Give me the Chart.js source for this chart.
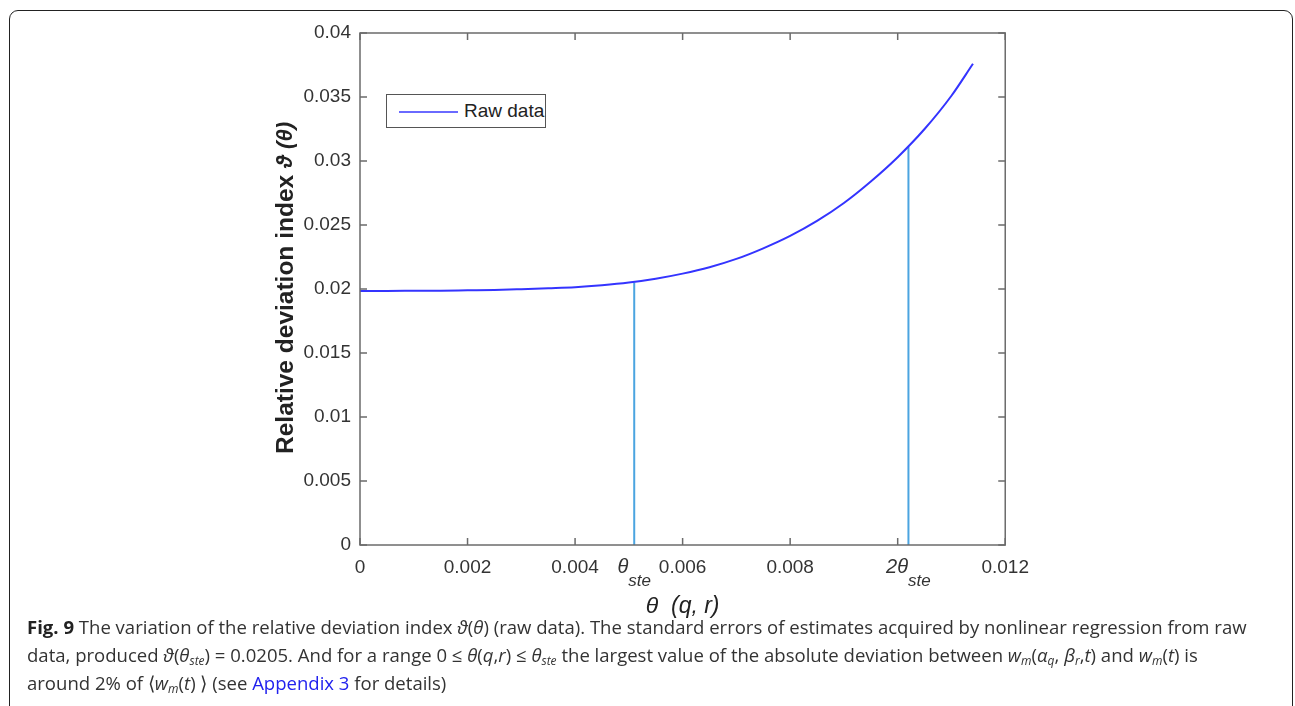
<!DOCTYPE html>
<html>
<head>
<meta charset="utf-8">
<script src="https://cdn.jsdelivr.net/npm/chart.js@4.4.1/dist/chart.umd.min.js"></script>
<style>
  html, body { margin: 0; padding: 0; background: #fff; width: 1295px; height: 706px; overflow: hidden; }
  .frame { position: absolute; left: 9px; top: 10px; width: 1282px; height: 740px; border: 1.5px solid #222; border-radius: 9px; }
  .plot { position: absolute; left: 240px; top: 0; width: 800px; height: 620px; }
  .legend { position: absolute; left: 386px; top: 94px; width: 158px; height: 32px; border: 1.5px solid #555; background: #fff;
    font: 19px "Liberation Sans", Arial, sans-serif; color: #222; }
  .legend .ln { position: absolute; left: 12px; top: 16px; width: 59px; height: 2px; background: #6a6aff; }
  .legend .tx { position: absolute; left: 77px; top: 5px; }
  .caption { position: absolute; left: 27px; top: 613px; font: 18.55px/28px "Open Sans", sans-serif; color: #333; white-space: nowrap; }
  .caption b { color: #222; }
  .caption i { font-style: italic; }
  .caption sub { font-size: 12px; line-height: 0; vertical-align: -3px; }
  .caption a { color: #2222ee; text-decoration: none; }
</style>
</head>
<body>
<div class="frame"></div>
<div class="plot"><canvas id="c" width="800" height="620"></canvas></div>
<div class="legend"><div class="ln"></div><div class="tx">Raw data</div></div>
<div class="caption">
<b>Fig. 9</b> The variation of the relative deviation index <i>ϑ</i>(<i>θ</i>) (raw data). The standard errors of estimates acquired by nonlinear regression from raw<br>
data, produced <i>ϑ</i>(<i>θ<sub>ste</sub></i>) = 0.0205. And for a range 0 ≤ <i>θ</i>(<i>q</i>,<i>r</i>) ≤ <i>θ<sub>ste</sub></i> the largest value of the absolute deviation between <i>w<sub>m</sub></i>(<i>α<sub>q</sub></i>, <i>β<sub>r</sub></i>,<i>t</i>) and <i>w<sub>m</sub></i>(<i>t</i>) is<br>
around 2% of ⟨<i>w<sub>m</sub></i>(<i>t</i>) ⟩ (see <a>Appendix 3</a> for details)
</div>
<script>
// raw data curve
const thetaVals = [0, 0.0005, 0.001, 0.0015, 0.002, 0.0025, 0.003, 0.0035, 0.004, 0.0045, 0.005, 0.0055,
  0.006, 0.0065, 0.007, 0.0075, 0.008, 0.0085, 0.009, 0.0095, 0.010, 0.0105, 0.011, 0.0114];
const devVals = [0.01985, 0.01985, 0.01986, 0.01987, 0.01990, 0.01993, 0.01999, 0.02006, 0.02014, 0.02029, 0.02050, 0.02080,
  0.02120, 0.02170, 0.02235, 0.02318, 0.02415, 0.02532, 0.02672, 0.02840, 0.03030, 0.03250, 0.03510, 0.03760];

// theta_ste and 2*theta_ste markers
const steX = [0.0051, 0.0102];
const steY = [0.0205, 0.0311];
const steLabels = [["θ", "ste"], ["2θ", "ste"]];

const xTicks = [0, 0.002, 0.004, 0.006, 0.008, 0.010, 0.012];
const xTickHidden = [0.010];
const yTicks = [0, 0.005, 0.01, 0.015, 0.02, 0.025, 0.03, 0.035, 0.04];

const yTitle = ["Relative deviation index ", "ϑ (θ)"];
const xTitle = "θ  (q, r)";

const fmt = (v) => String(+Number(v).toFixed(4));
const tickFont = { family: "'Liberation Sans', Arial, sans-serif", size: 19 };

const boxPlugin = {
  id: "box",
  afterDatasetsDraw(chart) {
    const { ctx, chartArea: a, scales: { x, y } } = chart;
    ctx.save();
    ctx.strokeStyle = "#6b6b6b";
    ctx.lineWidth = 1.5;
    ctx.strokeRect(a.left, a.top, a.right - a.left, a.bottom - a.top);
    ctx.beginPath();
    xTicks.forEach(v => {
      const px = x.getPixelForValue(v);
      ctx.moveTo(px, a.bottom); ctx.lineTo(px, a.bottom - 7);
      ctx.moveTo(px, a.top); ctx.lineTo(px, a.top + 7);
    });
    yTicks.forEach(v => {
      const py = y.getPixelForValue(v);
      ctx.moveTo(a.left, py); ctx.lineTo(a.left + 7, py);
      ctx.moveTo(a.right, py); ctx.lineTo(a.right - 7, py);
    });
    ctx.stroke();

    // theta_ste labels under the axis
    ctx.fillStyle = "#333";
    ctx.textBaseline = "alphabetic";
    steX.forEach((v, i) => {
      const px = x.getPixelForValue(v);
      const [main, sub] = steLabels[i];
      ctx.font = "italic 20px 'Liberation Sans', Arial, sans-serif";
      const w1 = ctx.measureText(main).width;
      ctx.font = "italic 17px 'Liberation Sans', Arial, sans-serif";
      const w2 = ctx.measureText(sub).width;
      const x0 = px - (w1 + w2) / 2;
      ctx.font = "italic 20px 'Liberation Sans', Arial, sans-serif";
      ctx.fillText(main, x0, a.bottom + 28);
      ctx.font = "italic 17px 'Liberation Sans', Arial, sans-serif";
      ctx.fillText(sub, x0 + w1, a.bottom + 41);
    });

    // y axis title, bold part + italic part
    ctx.translate(46, (a.top + a.bottom) / 2 - 1);
    ctx.rotate(-Math.PI / 2);
    ctx.fillStyle = "#222";
    ctx.textBaseline = "middle";
    ctx.font = "bold 24.5px 'Liberation Sans', Arial, sans-serif";
    const wa = ctx.measureText(yTitle[0]).width;
    ctx.font = "italic bold 22px 'Liberation Sans', Arial, sans-serif";
    const wb = ctx.measureText(yTitle[1]).width;
    const sx = -(wa + wb) / 2;
    ctx.font = "bold 24.5px 'Liberation Sans', Arial, sans-serif";
    ctx.fillText(yTitle[0], sx, 0);
    ctx.font = "italic bold 22px 'Liberation Sans', Arial, sans-serif";
    ctx.fillText(yTitle[1], sx + wa, 0);
    ctx.restore();
  }
};

new Chart(document.getElementById("c"), {
  type: "line",
  data: {
    datasets: [
      {
        label: "Raw data",
        data: thetaVals.map((t, i) => ({ x: t, y: devVals[i] })),
        borderColor: "#3434ff",
        borderWidth: 2,
        pointRadius: 0,
        cubicInterpolationMode: "monotone"
      },
      ...steX.map((v, i) => ({
        label: "ste" + i,
        data: [{ x: v, y: 0 }, { x: v, y: steY[i] }],
        borderColor: "#4ba4e0",
        borderWidth: 2,
        pointRadius: 0
      }))
    ]
  },
  options: {
    responsive: false,
    animation: false,
    layout: { padding: { top: 33, right: 34, bottom: 0, left: 0 } },
    plugins: { legend: { display: false }, tooltip: { enabled: false } },
    scales: {
      x: {
        type: "linear",
        min: 0, max: 0.012,
        afterBuildTicks: (s) => { s.ticks = xTicks.map(v => ({ value: v })); },
        afterFit: (s) => { s.height = 75; },
        grid: { display: false, drawTicks: false },
        border: { display: false },
        ticks: {
          color: "#333", font: tickFont, padding: 11, maxRotation: 0,
          callback: (v) => xTickHidden.some(h => Math.abs(h - v) < 1e-9) ? "" : fmt(v)
        },
        title: { display: true, text: xTitle, color: "#222", font: { family: "'Liberation Sans', Arial, sans-serif", size: 23, style: "italic" }, padding: 0 }
      },
      y: {
        type: "linear",
        min: 0, max: 0.04,
        afterBuildTicks: (s) => { s.ticks = yTicks.map(v => ({ value: v })); },
        afterFit: (s) => { s.width = 120; },
        grid: { display: false, drawTicks: false },
        border: { display: false },
        ticks: { color: "#333", font: tickFont, padding: 9, callback: fmt }
      }
    }
  },
  plugins: [boxPlugin]
});
</script>
</body>
</html>
